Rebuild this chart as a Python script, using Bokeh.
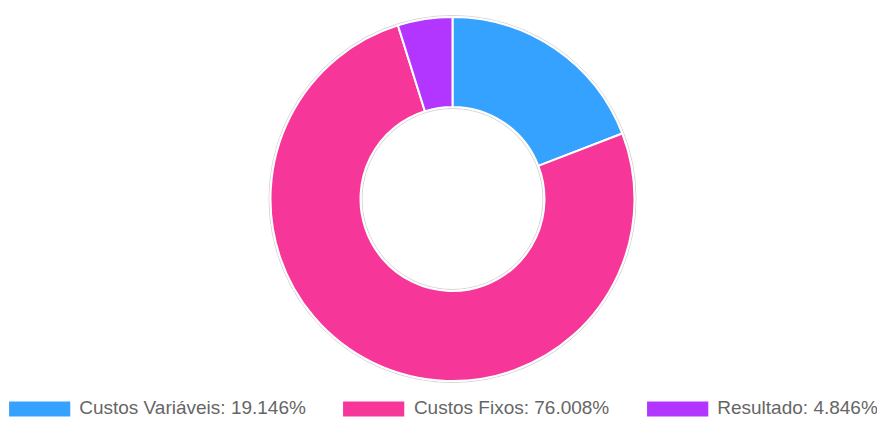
import numpy as np
from bokeh.plotting import figure
from bokeh.models import ColumnDataSource, Range1d, Legend, LegendItem
from bokeh.embed import file_html
from bokeh.resources import INLINE

categories = ["Custos Variáveis", "Custos Fixos", "Resultado"]
percentages = [19.146, 76.008, 4.846]
colors = ["#36A2FF", "#F7369A", "#B236FF"]

labels = [f"{c}: {v:.3f}%" for c, v in zip(categories, percentages)]

vals = np.array(percentages)
frac = vals / vals.sum()
ends_cum = np.cumsum(frac)
starts_cum = ends_cum - frac
start_angle = np.pi / 2 - starts_cum * 2 * np.pi
end_angle = np.pi / 2 - ends_cum * 2 * np.pi

CX, CY = 452, -198.5
R_OUT, R_IN = 182, 92

src = ColumnDataSource(dict(
    x=[CX] * len(categories), y=[CY] * len(categories),
    start=start_angle, end=end_angle, color=colors, label=labels,
))

p = figure(width=877, height=419, output_backend="svg", toolbar_location=None,
           x_range=Range1d(0, 877), y_range=Range1d(-419, 0),
           x_axis_location=None, y_axis_location=None, min_border=0,
           outline_line_color=None, background_fill_color="white")
p.grid.visible = False

# faint shadow edges
p.circle(x=[CX], y=[CY], radius=R_OUT + 1.5, fill_color=None,
         line_color="#c8c8c8", line_width=1, line_alpha=0.8)
p.circle(x=[CX], y=[CY], radius=R_IN - 1.5, fill_color=None,
         line_color="#c8c8c8", line_width=1, line_alpha=0.8)

r = p.annular_wedge(x="x", y="y", inner_radius=R_IN, outer_radius=R_OUT,
                    start_angle="start", end_angle="end", direction="clock",
                    fill_color="color", line_color="white", line_width=2,
                    source=src)

items = [LegendItem(label=labels[i], renderers=[r], index=i) for i in range(len(labels))]
legend = Legend(items=items, orientation="horizontal", location="bottom_center",
                glyph_width=79, glyph_height=21, label_standoff=1, spacing=28,
                label_text_font="Liberation Sans", label_text_font_size="19px",
                label_text_color="#666666", border_line_color=None,
                background_fill_alpha=0, padding=0, margin=0)
p.add_layout(legend, "center")

open("out.html", "w").write(file_html(p, INLINE))
